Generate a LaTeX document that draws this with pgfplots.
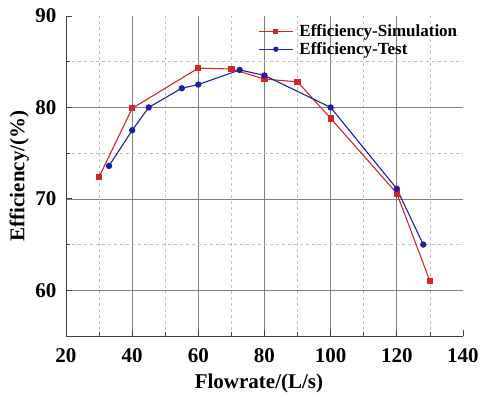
\documentclass[border=0pt]{standalone}
\usepackage{pgfplots}
\pgfplotsset{compat=1.18}
\usepackage{fontspec}
\setmainfont{Liberation Serif}
\definecolor{simred}{RGB}{208,40,40}
\definecolor{testblue}{RGB}{30,30,170}
\begin{document}
\begin{tikzpicture}
\begin{axis}[
  name=ax,
  scale only axis,
  width=397pt, height=320pt,
  xmin=20, xmax=140, ymin=55, ymax=90,
  axis lines*=left,
  axis line style={black!75, line width=0.9pt},
  xtick={20,40,60,80,100,120},
  extra x ticks={140},
  extra x tick style={grid=none},
  ytick={60,70,80},
  extra y ticks={90},
  extra y tick style={grid=none},
  minor xtick={30,50,70,90,110,130},
  minor ytick={65,75,85},
  tick align=inside,
  major tick length=6pt,
  minor tick length=4pt,
  tick style={black!75, line width=0.8pt},
  grid=both,
  major grid style={black!50, line width=0.7pt},
  minor grid style={black!25, dashed, line width=0.6pt},
  /pgf/number format/assume math mode=true,
  xticklabel={\textbf{\pgfmathprintnumber{\tick}}},
  yticklabel={\textbf{\pgfmathprintnumber{\tick}}},
  ticklabel style={font=\fontsize{21}{23}\selectfont\bfseries},
  xticklabel style={yshift=-9pt},
  yticklabel style={xshift=-6pt},
  xlabel={\fontsize{21}{24}\selectfont\bfseries Flowrate/(L/s)},
  ylabel={\fontsize{21}{24}\selectfont\bfseries Efficiency/(\%)},
  xlabel style={at={(axis description cs:0.486,-0.147)}, anchor=center},
  ylabel style={at={(axis description cs:-0.118,0.5)}, anchor=center},
  legend style={draw=none, fill=none, at={(0.476,0.985)}, anchor=north west,
    font=\fontsize{17}{19}\selectfont\bfseries, row sep=0pt,
    /tikz/every odd column/.append style={column sep=4pt}},
  legend cell align=left,
  legend image code/.code={\draw[mark repeat=2,mark phase=2,mark size=2pt,line width=1.3pt]
    plot coordinates {(0pt,0pt)(17pt,0pt)(34pt,0pt)};},
]
\addplot[simred, line width=1.1pt, mark=square*, mark size=2.6pt] coordinates {
 (30,72.4) (40,79.9) (60,84.3) (70,84.2) (80,83.1) (90,82.8) (100,78.8) (120,70.6) (130,61.0)
};
\addlegendentry{Efficiency-Simulation}
\addplot[testblue, line width=1.1pt, mark=*, mark size=2.6pt] coordinates {
 (33,73.6) (40,77.5) (45,80.0) (55,82.1) (60,82.5) (72.5,84.1) (80,83.5) (100,80.0) (120,71.1) (128,65.0)
};
\addlegendentry{Efficiency-Test}
\end{axis}
\pgfresetboundingbox
\path (ax.south west) ++(-66pt,-63pt) rectangle ([shift={(17pt,16pt)}]ax.north east);
\end{tikzpicture}
\end{document}
